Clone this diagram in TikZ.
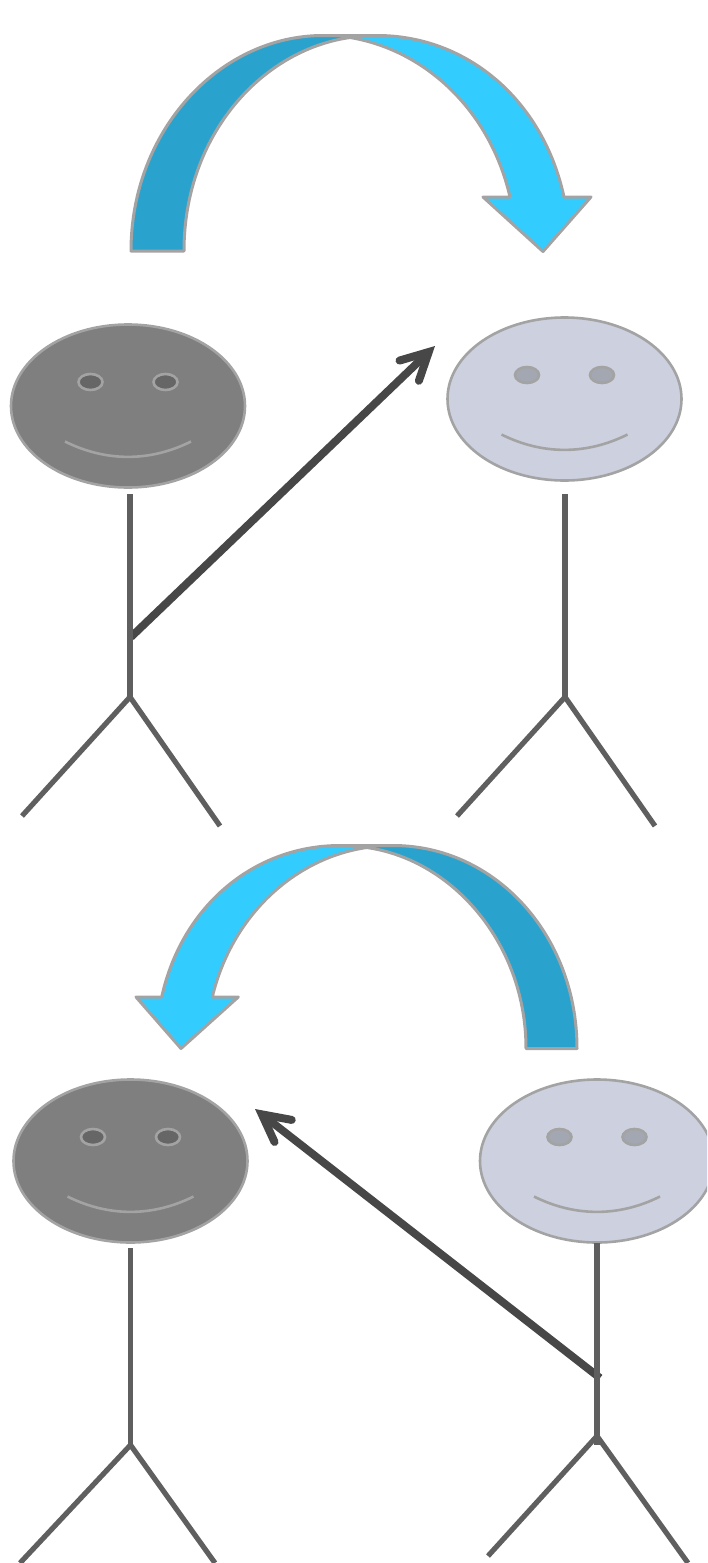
\documentclass[tikz,border=0pt]{standalone}
\usetikzlibrary{arrows.meta}
\definecolor{edgegray}{HTML}{A3A3A3}
\definecolor{darkblue}{HTML}{29A3CE}
\definecolor{lightblue}{HTML}{33CCFF}
\definecolor{facedark}{HTML}{7F7F7F}
\definecolor{eyedark}{HTML}{666666}
\definecolor{facelight}{HTML}{CDD1DF}
\definecolor{eyelight}{HTML}{A3A7B2}
\definecolor{stickgray}{HTML}{5F5F5F}
\definecolor{arrowgray}{HTML}{474747}
\tikzset{
  px/.style={x=0.5pt,y=-0.5pt},
  bandshape/.style={draw=edgegray,line width=1.5pt,line join=round},
  facebase/.style={draw=edgegray,line width=1.3pt},
  stick/.style={draw=stickgray,line width=2.6pt,line join=miter},
  smilecurve/.style={draw=edgegray,line width=1.3pt},
  talk/.style={draw=arrowgray,line width=3.9pt,
    -{Straight Barb[length=13.5pt,width=14pt,line width=4pt,line cap=round]}},
}
\newcommand{\face}[4]{% cx cy fill eye
  \fill[#3] (#1,#2) ellipse [x radius=117,y radius=81.5];
  \draw[facebase] (#1,#2) ellipse [x radius=117,y radius=81.5];
  \draw[facebase,fill=#4] ({#1-37.5},{#2-24}) ellipse [x radius=12,y radius=8];
  \draw[facebase,fill=#4] ({#1+37.5},{#2-24}) ellipse [x radius=12,y radius=8];
  \draw[smilecurve] ({#1-63},{#2+35.5}) .. controls ({#1-22},{#2+56}) and ({#1+22},{#2+56}) .. ({#1+63},{#2+35.5});
}
\begin{document}
\begin{tikzpicture}[px]
\useasboundingbox (0,0) rectangle (707,1563);
\clip (0,0) rectangle (707,1563);
% top curved arrow
\draw[bandshape,fill=darkblue] (131,251) .. controls (131,130) and (220,35.5) .. (323,35.5)
  -- (350,35.5) -- (350,37.5) .. controls (262,50) and (184,135) .. (184,251) -- cycle;
\draw[bandshape,fill=lightblue] (350,37.5) -- (350,35.5) -- (377,35.5) .. controls (467,35.5) and (543,100) .. (564,197)
  -- (591,197) -- (543,251.5) -- (483,197) -- (510,197)
  .. controls (490,110) and (425,50) .. (350,37.5) -- cycle;
% bottom curved arrow
\draw[bandshape,fill=darkblue] (577,1048.5) .. controls (577,935) and (495,845.5) .. (393,845.5)
  -- (366.7,845.5) -- (366.7,847.5) .. controls (454,860) and (526,945) .. (526,1048.5) -- cycle;
\draw[bandshape,fill=lightblue] (366.7,847.5) -- (366.7,845.5) -- (340,845.5) .. controls (255,845.5) and (182,905) .. (161.7,997)
  -- (136,997) -- (181,1048.5) -- (238.3,997) -- (212.3,997)
  .. controls (232,915) and (295,858) .. (366.7,847.5) -- cycle;
% faces
\face{128}{406}{facedark}{eyedark}
\face{564.5}{399}{facelight}{eyelight}
\face{130.5}{1161}{facedark}{eyedark}
\face{597}{1161}{facelight}{eyelight}
% talking arrows
\coordinate (fromA) at (131,637);
\coordinate (toA) at (435,346);
\coordinate (fromD) at (600,1378);
\coordinate (toD) at (255,1109);
\draw[talk] (fromA) -- (toA);
\draw[talk] (fromD) -- (toD);
% sticks: body and legs
\coordinate (hipA) at (130,697);
\coordinate (hipB) at (565,697);
\coordinate (hipC) at (130.5,1445);
\coordinate (hipD) at (597,1436);
\draw[stick] (130,494) -- (hipA);
\draw[stick] (22,816) -- (hipA) -- (220,826);
\draw[stick] (565,494) -- (hipB);
\draw[stick] (457,816) -- (hipB) -- (655,826);
\draw[stick] (130.5,1248) -- (hipC);
\draw[stick] (20,1563) -- (hipC) -- (215,1563);
\draw[stick] (597,1243) -- (597,1445);
\draw[stick] (488,1556) -- (hipD) -- (688,1563);
\end{tikzpicture}
\end{document}
